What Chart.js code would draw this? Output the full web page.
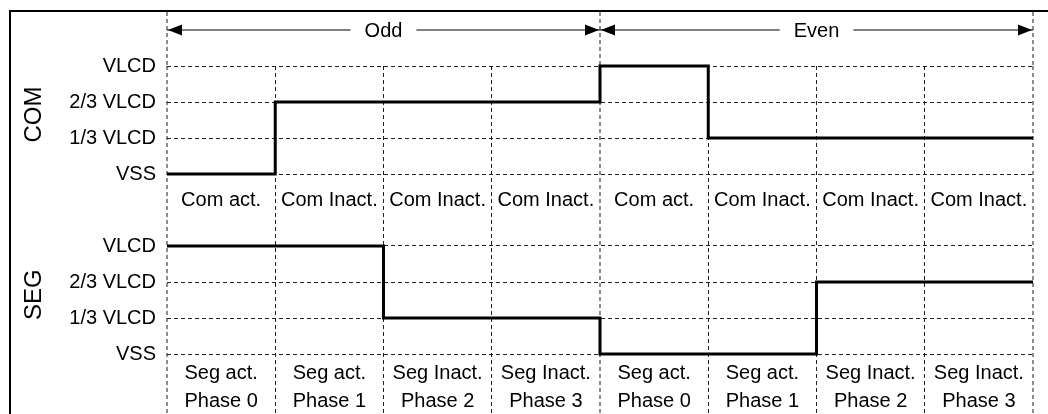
<!DOCTYPE html>
<html>
<head>
<meta charset="utf-8">
<script src="https://cdn.jsdelivr.net/npm/chart.js@4.4.1/dist/chart.umd.min.js"></script>
<style>
  html, body { margin: 0; padding: 0; background: #fff; }
  canvas { display: block; }
</style>
</head>
<body>
<canvas id="wave" width="1048" height="414"></canvas>
<script>
// Data
const levelNames = ["VSS", "1/3 VLCD", "2/3 VLCD", "VLCD"];
const comLevels = [0, 2, 2, 2, 3, 1, 1, 1];
const segLevels = [3, 3, 1, 1, 0, 0, 2, 2];
const comLabels = ["Com act.", "Com Inact.", "Com Inact.", "Com Inact.", "Com act.", "Com Inact.", "Com Inact.", "Com Inact."];
const segLabels = ["Seg act.", "Seg act.", "Seg Inact.", "Seg Inact.", "Seg act.", "Seg act.", "Seg Inact.", "Seg Inact."];
const phaseLabels = ["Phase 0", "Phase 1", "Phase 2", "Phase 3", "Phase 0", "Phase 1", "Phase 2", "Phase 3"];
const frameNames = ["Odd", "Even"];
const frameBounds = [0, 4, 8];

// Layout (in level units of the y scale)
const comBase = 5;
const segBase = 0;
const arrowLevel = 9;
const comRowLevel = 4.28;
const segRowLevel = -0.5;
const phaseRowLevel = -1.28;
const font = "'Liberation Sans', Arial, sans-serif";
const labelSize = 20;

function stepSeries(levels, base) {
	const pts = levels.map((v, i) => ({ x: i, y: v + base }));
	pts.push({ x: levels.length, y: levels[levels.length - 1] + base });
	return pts;
}

const tickValues = [];
levelNames.forEach((_, i) => tickValues.push(segBase + i));
levelNames.forEach((_, i) => tickValues.push(comBase + i));

function tickName(value) {
	const idx = value >= comBase ? value - comBase : value - segBase;
	return levelNames[idx] ?? "";
}

const waveStyle = {
	borderColor: "#000",
	borderWidth: 3,
	stepped: true,
	pointRadius: 0,
	fill: false,
	borderJoinStyle: "miter",
	borderCapStyle: "butt",
	clip: false
};

const arrowSets = frameNames.map((name, i) => ({
	data: [{ x: frameBounds[i], y: arrowLevel }, { x: frameBounds[i + 1], y: arrowLevel }],
	borderColor: "#000",
	borderWidth: 1,
	pointRadius: 0,
	fill: false,
	clip: false
}));

const framePlugin = {
	id: "frame",
	beforeDraw(chart) {
		const { ctx } = chart;
		ctx.save();
		ctx.fillStyle = "#fff";
		ctx.fillRect(0, 0, chart.width, chart.height);
		ctx.fillStyle = "#000";
		ctx.fillRect(9, 10, chart.width - 9, 2);
		ctx.fillRect(9, 10, 2, chart.height - 10);
		ctx.restore();
	},
	beforeDatasetsDraw(chart) {
		const { ctx, chartArea } = chart;
		const x = chart.scales.x;
		ctx.save();
		ctx.strokeStyle = "#8c8c8c";
		ctx.lineWidth = 2;
		ctx.setLineDash([4, 3]);
		frameBounds.forEach((b) => {
			const px = Math.round(x.getPixelForValue(b));
			ctx.beginPath();
			ctx.moveTo(px, 12);
			ctx.lineTo(px, chartArea.top);
			ctx.stroke();
		});
		ctx.restore();
	}
};

const labelPlugin = {
	id: "labels",
	afterDatasetsDraw(chart) {
		const { ctx } = chart;
		const x = chart.scales.x;
		const y = chart.scales.y;
		ctx.save();
		ctx.fillStyle = "#000";
		ctx.font = `${labelSize}px ${font}`;
		ctx.textAlign = "center";
		ctx.textBaseline = "middle";

		// arrowheads and frame names
		const ay = y.getPixelForValue(arrowLevel);
		const head = (tip, dir) => {
			ctx.beginPath();
			ctx.moveTo(tip, ay);
			ctx.lineTo(tip - dir * 14, ay - 5.5);
			ctx.lineTo(tip - dir * 14, ay + 5.5);
			ctx.closePath();
			ctx.fill();
		};
		frameNames.forEach((name, i) => {
			const x0 = x.getPixelForValue(frameBounds[i]);
			const x1 = x.getPixelForValue(frameBounds[i + 1]);
			head(x0 + 1, -1);
			head(x1 - 1, 1);
			const cx = (x0 + x1) / 2;
			const w = ctx.measureText(name).width;
			ctx.fillStyle = "#fff";
			ctx.fillRect(cx - w / 2 - 14, ay - 10, w + 28, 20);
			ctx.fillStyle = "#000";
			ctx.fillText(name, cx, ay + 1);
		});

		// row labels
		const rows = [[comLabels, comRowLevel], [segLabels, segRowLevel], [phaseLabels, phaseRowLevel]];
		rows.forEach(([labels, level]) => {
			const py = y.getPixelForValue(level);
			labels.forEach((t, i) => ctx.fillText(t, x.getPixelForValue(i + 0.5), py + 1));
		});

		// signal names
		ctx.font = `24px ${font}`;
		[["COM", comBase + 1.65], ["SEG", segBase + 1.65]].forEach(([t, lv]) => {
			ctx.save();
			ctx.translate(33, y.getPixelForValue(lv));
			ctx.rotate(-Math.PI / 2);
			ctx.fillText(t, 0, 1);
			ctx.restore();
		});
		ctx.restore();
	}
};

new Chart(document.getElementById("wave"), {
	type: "line",
	data: {
		datasets: [
			{ ...waveStyle, data: stepSeries(comLevels, comBase) },
			{ ...waveStyle, data: stepSeries(segLevels, segBase) },
			...arrowSets
		]
	},
	options: {
		responsive: false,
		animation: false,
		devicePixelRatio: 1,
		layout: { padding: { top: 66, right: 15, bottom: 0, left: 0 } },
		plugins: { legend: { display: false }, tooltip: { enabled: false } },
		scales: {
			x: {
				type: "linear",
				min: 0,
				max: 8,
				afterBuildTicks(scale) {
					scale.ticks = Array.from({ length: 9 }, (_, i) => ({ value: i }));
				},
				afterFit(scale) {
					scale.height = 0;
					scale.paddingLeft = 0;
					scale.paddingRight = 0;
				},
				ticks: { display: false },
				border: { display: false, dash: [4, 3] },
				grid: {
					drawTicks: false,
					color: (c) => (frameBounds.includes(c.tick.value) ? "#8c8c8c" : "#222"),
					lineWidth: (c) => (frameBounds.includes(c.tick.value) ? 2 : 1)
				}
			},
			y: {
				type: "linear",
				min: -5 / 3,
				max: 8,
				afterBuildTicks(scale) {
					scale.ticks = tickValues.map((v) => ({ value: v }));
				},
				afterFit(scale) {
					scale.width = 167;
					scale.paddingTop = 0;
					scale.paddingBottom = 0;
				},
				ticks: {
					padding: 11,
					color: "#000",
					font: { family: font, size: labelSize },
					callback: (v) => tickName(v)
				},
				border: { display: false, dash: [4, 3] },
				grid: { drawTicks: false, color: "#222", lineWidth: 1 }
			}
		}
	},
	plugins: [framePlugin, labelPlugin]
});
</script>
</body>
</html>
